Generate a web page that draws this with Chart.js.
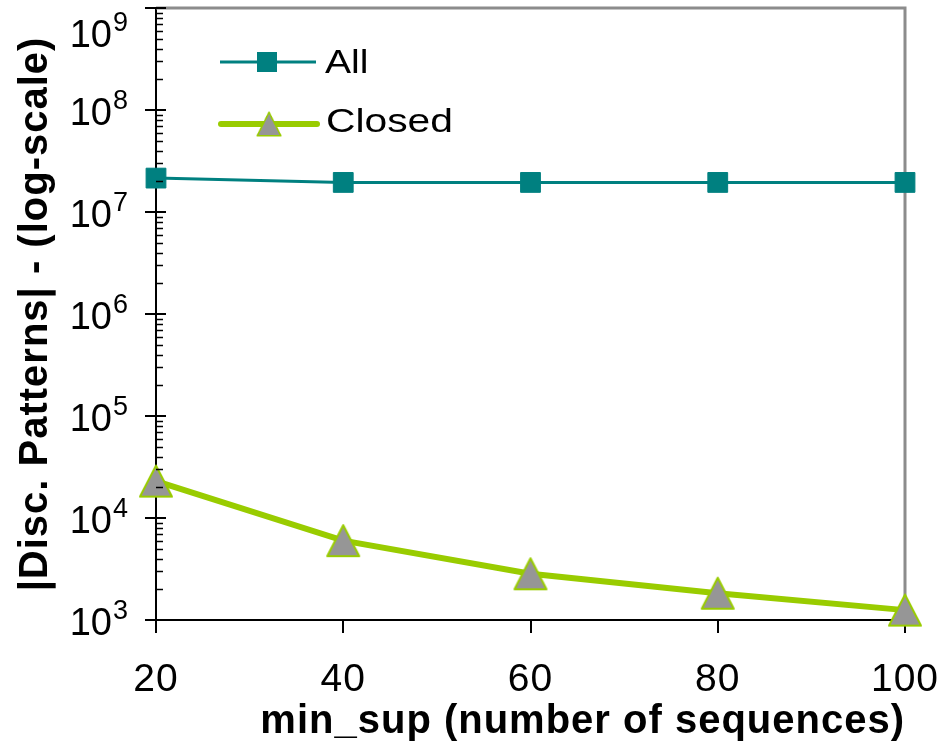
<!DOCTYPE html>
<html><head><meta charset="utf-8">
<script src="https://cdn.jsdelivr.net/npm/chart.js@4/dist/chart.umd.min.js"></script>
<style>html,body{margin:0;padding:0;background:#fff;} #wrap{width:949px;height:748px;position:relative;}</style>
</head><body><div id="wrap"><canvas id="c" width="949" height="748"></canvas></div>
<script>
// ---- data ----
const categories = ['20', '40', '60', '80', '100'];
const allValues = [21500000, 19500000, 19500000, 19500000, 19500000];
const closedValues = [23000, 6000, 2840, 1830, 1250];
const seriesNames = ['All', 'Closed'];
const yExponents = [3, 4, 5, 6, 7, 8, 9];
const xTitle = 'min_sup (number of sequences)';
const yTitle = '|Disc. Patterns| - (log-scale)';

const FONT = '"Liberation Sans", Arial, sans-serif';
const TEAL = '#008080';
const GREEN = '#99CC00';
const GRAY = '#969696';

function makeTriangle(w, h, fill, stroke, lw) {
  const c = document.createElement('canvas');
  const p = lw + 1;
  c.width = w + 2 * p; c.height = h + 2 * p;
  const g = c.getContext('2d');
  g.beginPath();
  g.moveTo(c.width / 2, p);
  g.lineTo(c.width - p, c.height - p);
  g.lineTo(p, c.height - p);
  g.closePath();
  g.fillStyle = fill; g.fill();
  g.lineWidth = lw; g.strokeStyle = stroke; g.lineJoin = 'round'; g.stroke();
  return c;
}
const triImg = makeTriangle(32, 31, GRAY, GREEN, 2);

const spacing = {
  id: 'spacing',
  beforeDraw(chart) { chart.ctx.letterSpacing = '1px'; }
};

const frameBorder = {
  id: 'frameBorder',
  beforeDatasetsDraw(chart) {
    const {ctx, chartArea: a} = chart;
    ctx.save();
    ctx.strokeStyle = '#8c8c8c'; ctx.lineWidth = 3;
    ctx.beginPath();
    ctx.moveTo(a.left, a.top); ctx.lineTo(a.right, a.top); ctx.lineTo(a.right, a.bottom);
    ctx.stroke();
    ctx.restore();
  }
};

const yAxisDecor = {
  id: 'yAxisDecor',
  afterDraw(chart) {
    const {ctx, chartArea: a, scales: {y}} = chart;
    ctx.save();
    ctx.letterSpacing = '0px';
    ctx.strokeStyle = '#000';
    const last = yExponents[yExponents.length - 1];
    yExponents.forEach(e => {
      const py = Math.round(y.getPixelForValue(Math.pow(10, e)));
      ctx.lineWidth = 2;
      ctx.beginPath(); ctx.moveTo(a.left - 11, py); ctx.lineTo(a.left + 10, py); ctx.stroke();
      if (e < last) {
        ctx.lineWidth = 1.5;
        for (let m = 2; m <= 9; m++) {
          const my = Math.round(y.getPixelForValue(m * Math.pow(10, e))) + 0.5;
          ctx.beginPath(); ctx.moveTo(a.left, my); ctx.lineTo(a.left + 7, my); ctx.stroke();
        }
      }
      // keep the label inside the canvas (top label is pushed down)
      const ly = py + Math.max(0, 10 - (py - 22));
      ctx.fillStyle = '#000';
      ctx.textBaseline = 'alphabetic';
      ctx.textAlign = 'right';
      ctx.font = '27px ' + FONT;
      const ex = String(e);
      const exW = ctx.measureText(ex).width;
      ctx.fillText(ex, 128, ly - 1);
      ctx.font = '38px ' + FONT;
      ctx.fillText('10', 128 - exW - 1, ly + 15);
    });
    ctx.restore();
  }
};

const insideLegend = {
  id: 'insideLegend',
  afterDraw(chart) {
    const {ctx} = chart;
    const ds = chart.data.datasets;
    ctx.save();
    ctx.letterSpacing = '0px';
    // All
    ctx.strokeStyle = ds[0].borderColor; ctx.lineWidth = ds[0].borderWidth;
    ctx.beginPath(); ctx.moveTo(220, 62); ctx.lineTo(316, 62); ctx.stroke();
    ctx.fillStyle = ds[0].pointBackgroundColor;
    ctx.fillRect(257, 52, 20, 20);
    // Closed
    ctx.strokeStyle = ds[1].borderColor; ctx.lineWidth = ds[1].borderWidth; ctx.lineCap = 'round';
    ctx.beginPath(); ctx.moveTo(221, 124); ctx.lineTo(317, 124); ctx.stroke();
    ctx.drawImage(triImg, 255, 110, 28, 28);
    // texts
    ctx.fillStyle = '#000';
    ctx.font = '34px ' + FONT;
    ctx.textBaseline = 'alphabetic';
    ctx.textAlign = 'left';
    ctx.save(); ctx.translate(325, 73); ctx.scale(1.15, 1); ctx.fillText(ds[0].label, 0, 0); ctx.restore();
    ctx.save(); ctx.translate(326, 132); ctx.scale(1.2, 1); ctx.fillText(ds[1].label, 0, 0); ctx.restore();
    ctx.restore();
  }
};

new Chart(document.getElementById('c'), {
  type: 'line',
  data: {
    labels: categories,
    datasets: [
      {
        label: seriesNames[0], data: allValues,
        borderColor: TEAL, borderWidth: 3,
        pointStyle: 'rect', pointRadius: 14, pointBackgroundColor: TEAL, pointBorderColor: TEAL, pointBorderWidth: 1,
        tension: 0, clip: false
      },
      {
        label: seriesNames[1], data: closedValues,
        borderColor: GREEN, borderWidth: 6,
        pointStyle: triImg, pointRadius: 17,
        tension: 0, clip: false
      }
    ]
  },
  options: {
    responsive: false,
    animation: false,
    devicePixelRatio: 1,
    layout: {autoPadding: false, padding: {top: 8, right: 44, left: 0, bottom: 0}},
    plugins: {legend: {display: false}, tooltip: {enabled: false}},
    scales: {
      x: {
        type: 'category',
        offset: false,
        grid: {display: true, drawOnChartArea: false, drawTicks: true, tickLength: 13, color: '#000', lineWidth: 2},
        border: {display: true, color: '#000', width: 2},
        ticks: {color: '#000', font: {family: FONT, size: 39, lineHeight: 2.25}, padding: 3, maxRotation: 0, autoSkip: false},
        title: {display: true, text: xTitle, align: 'end', color: '#000',
                font: {family: FONT, size: 40, weight: 'bold'}, padding: {top: 0, bottom: 2}},
        afterFit(s) { s.height = 128; }
      },
      y: {
        type: 'logarithmic',
        min: Math.pow(10, yExponents[0]),
        max: Math.pow(10, yExponents[yExponents.length - 1]),
        grid: {display: false},
        border: {display: true, color: '#000', width: 2},
        ticks: {display: false},
        title: {display: true, text: yTitle, color: '#000',
                font: {family: FONT, size: 40, weight: 'bold'}, padding: {top: 12, bottom: 0}},
        afterFit(s) { s.width = 156; }
      }
    }
  },
  plugins: [spacing, frameBorder, yAxisDecor, insideLegend]
});
</script>
</body></html>
